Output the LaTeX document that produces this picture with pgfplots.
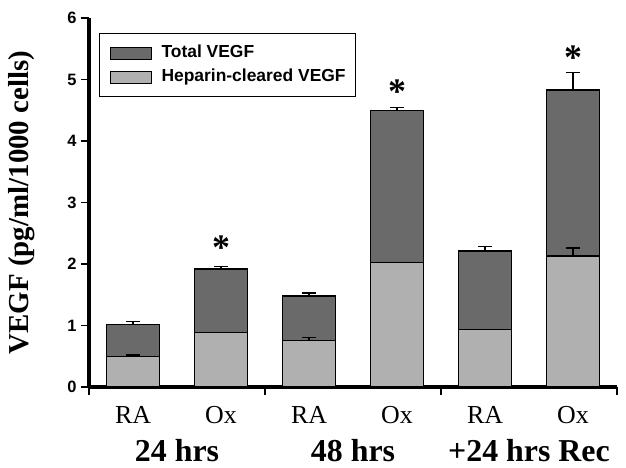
\documentclass[border=0pt]{standalone}
\usepackage{pgfplots}
\pgfplotsset{compat=1.18}
\usepackage{fontspec}
\setmainfont{Liberation Serif}
\setsansfont{Liberation Sans}
\definecolor{darkbar}{HTML}{6A6A6A}
\definecolor{lightbar}{HTML}{B0B0B0}

\pgfplotstableread{
x y e
0 1.02 0.04
1 1.92 0.04
2 1.48 0.05
3 4.49 0.06
4 2.21 0.07
5 4.83 0.29
}\totaltab

\pgfplotstableread{
x y e
0 0.50 0.02
1 0.88 0.00
2 0.76 0.05
3 2.02 0.01
4 0.94 0.00
5 2.13 0.13
}\heptab

\begin{document}
\begin{tikzpicture}
\begin{axis}[
  at={(0,0)}, anchor=south west,
  scale only axis, width=528bp, height=369bp,
  xmin=-0.5, xmax=5.5, ymin=0, ymax=6,
  axis x line*=bottom, axis y line*=left,
  axis line style={line width=3.5bp, -},
  ytick={0,1,2,3,4,5,6},
  yticklabels={0,1,2,3,4,5,6},
  yticklabel style={font=\fontsize{16.5}{16.5}\selectfont\sffamily\bfseries, xshift=-1bp},
  xtick={-0.5,1.5,3.5,5.5}, xticklabels={},
  tick align=outside, major tick length=8bp,
  tick style={line width=1.8bp, black},
  clip=false,
  ylabel={VEGF (pg/ml/1000 cells)},
  ylabel style={font=\fontsize{29}{29}\selectfont\bfseries, at={(axis description cs:-0.127,0.5)}, anchor=center},
  legend style={at={(0.019,0.959)}, anchor=north west, draw=black, line width=1bp,
    font=\fontsize{17.5}{17.5}\selectfont\sffamily\bfseries,
    nodes={inner sep=0pt, text height=13bp, text depth=4bp},
    /tikz/every odd column/.append style={column sep=10bp},
    row sep=7bp, inner xsep=10bp, inner ysep=11bp},
  legend cell align=left,
]
\addplot[ybar, bar width=0.6, bar shift=0, fill=darkbar, draw=black, line width=1.2bp,
  legend image code/.code={\draw[fill=darkbar, draw=black, line width=1bp] (0bp,-6bp) rectangle (41bp,6bp);},
  error bars/.cd, y dir=plus, y explicit,
  error bar style={line width=1.2bp, black},
  error mark options={rotate=90, mark size=7bp, line width=1.2bp, black}]
  table[x=x, y=y, y error=e] {\totaltab};
\addlegendentry{Total VEGF}
\addplot[ybar, bar width=0.6, bar shift=0, fill=lightbar, draw=black, line width=1.2bp,
  legend image code/.code={\draw[fill=lightbar, draw=black, line width=1bp] (0bp,-6bp) rectangle (41bp,6bp);},
  error bars/.cd, y dir=plus, y explicit,
  error bar style={line width=1.2bp, black},
  error mark options={rotate=90, mark size=7bp, line width=1.2bp, black}]
  table[x=x, y=y, y error=e] {\heptab};
\addlegendentry{Heparin-cleared VEGF}

\foreach \xx/\lab in {0/RA,1/Ox,2/RA,3/Ox,4/RA,5/Ox}{
  \edef\tmp{\noexpand\node[font=\noexpand\fontsize{26}{26}\noexpand\selectfont, anchor=base, yshift=-36bp] at (axis cs:\xx,0) {\lab};}
  \tmp
}
\node[font=\fontsize{32}{32}\selectfont\bfseries, anchor=base, yshift=-74bp] at (axis cs:0.5,0) {24 hrs};
\node[font=\fontsize{32}{32}\selectfont\bfseries, anchor=base, yshift=-74bp] at (axis cs:2.5,0) {48 hrs};
\node[font=\fontsize{32}{32}\selectfont\bfseries, anchor=base, yshift=-74bp] at (axis cs:4.5,0) {+24 hrs Rec};

\node[font=\fontsize{36}{36}\selectfont\bfseries, anchor=north, inner sep=0pt, yshift=7.5bp] at (axis cs:1,2.34) {*};
\node[font=\fontsize{36}{36}\selectfont\bfseries, anchor=north, inner sep=0pt, yshift=7.5bp] at (axis cs:3,4.88) {*};
\node[font=\fontsize{36}{36}\selectfont\bfseries, anchor=north, inner sep=0pt, yshift=7.5bp] at (axis cs:5,5.43) {*};
\end{axis}
\pgfresetboundingbox
\path (-89bp,-81bp) rectangle (537bp,387bp);
\end{tikzpicture}
\end{document}
